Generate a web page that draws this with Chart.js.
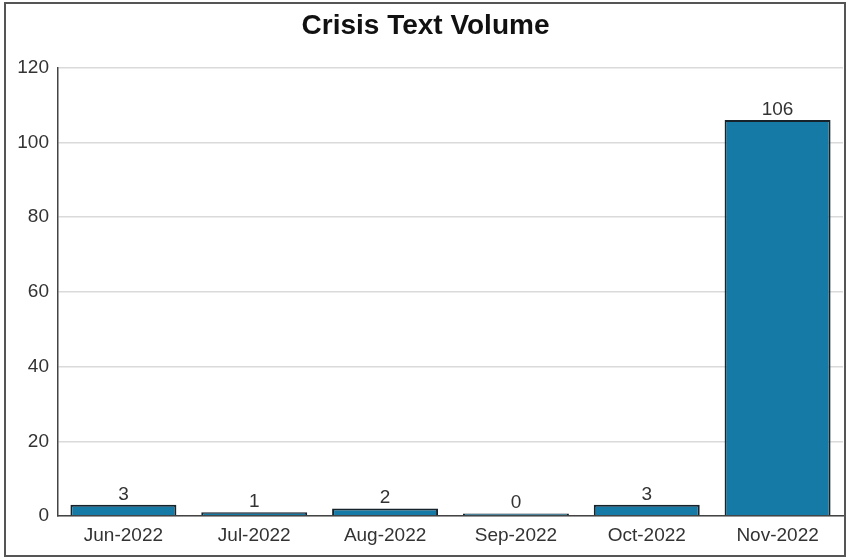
<!DOCTYPE html>
<html>
<head>
<meta charset="utf-8">
<title>Crisis Text Volume</title>
<script src="https://cdn.jsdelivr.net/npm/chart.js@4"></script>
<style>
  body { margin: 0; background: #fff; }
  #wrap { width: 850px; height: 560px; }
</style>
</head>
<body>
<div id="wrap"><canvas id="volChart" width="850" height="560"></canvas></div>
<script>
const months = ["Jun-2022", "Jul-2022", "Aug-2022", "Sep-2022", "Oct-2022", "Nov-2022"];
const textCounts = [3, 1, 2, 0, 3, 106];
const yTicks = [0, 20, 40, 60, 80, 100, 120];

const FONT = "'Liberation Sans', Arial, sans-serif";

// numbers above each bar
const barLabels = {
  id: 'barLabels',
  afterDatasetsDraw(chart) {
    const ctx = chart.ctx;
    const meta = chart.getDatasetMeta(0);
    ctx.save();
    ctx.font = "19px " + FONT;
    ctx.fillStyle = "#333";
    ctx.textAlign = "center";
    ctx.textBaseline = "bottom";
    meta.data.forEach((bar, i) => {
      const top = chart.scales.y.getPixelForValue(textCounts[i]);
      ctx.fillText(String(textCounts[i]), bar.x, Math.min(top, bar.y) - 1);
    });
    ctx.restore();
  }
};

// frame around the whole figure
const frame = {
  id: 'frame',
  afterDraw(chart) {
    const ctx = chart.ctx;
    ctx.save();
    ctx.strokeStyle = "#555";
    ctx.lineWidth = 2;
    ctx.strokeRect(5, 3, 840, 553);
    ctx.restore();
  }
};

let ctx = document.getElementById("volChart").getContext("2d");
new Chart(ctx, {
  type: 'bar',
  data: {
    labels: months,
    datasets: [{
      label: 'Crisis texts',
      data: textCounts,
      backgroundColor: "#157aa6",
      borderColor: "#17232b",
      borderWidth: 2,
      minBarLength: 2.5,
      categoryPercentage: 0.81,
      barPercentage: 1
    }]
  },
  options: {
    responsive: false,
    animation: false,
    layout: { padding: { left: 8, right: 7, top: 6, bottom: 4 } },
    plugins: {
      legend: { display: false },
      tooltip: { enabled: false },
      title: {
        display: true,
        text: "Crisis Text Volume",
        color: "#111",
        font: { family: FONT, size: 28, weight: 'bold' },
        padding: { top: 3, bottom: 25 }
      }
    },
    scales: {
      x: {
        grid: { display: false, drawTicks: false },
        border: { display: true, color: "#444", width: 1.5 },
        ticks: { color: "#333", font: { family: FONT, size: 19 }, padding: 8 },
        afterFit(scale) { scale.height = 40; }
      },
      y: {
        min: 0,
        max: 120,
        grid: { color: "#dadada", lineWidth: 1.5, drawTicks: false },
        border: { display: true, color: "#444", width: 1.5 },
        afterBuildTicks(scale) { scale.ticks = yTicks.map(v => ({ value: v })); },
        ticks: { color: "#333", font: { family: FONT, size: 19 }, padding: 9 },
        afterFit(scale) { scale.width = 50; }
      }
    }
  },
  plugins: [barLabels, frame]
});
</script>
</body>
</html>
